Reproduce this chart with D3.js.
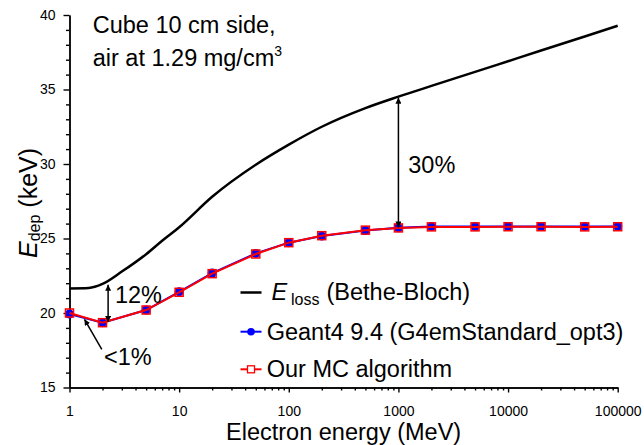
<!DOCTYPE html>
<html><head><meta charset="utf-8">
<script src="https://cdn.jsdelivr.net/npm/d3@7/dist/d3.min.js"></script>
<style>
html,body{margin:0;padding:0;background:#fff;}
svg{display:block;font-family:"Liberation Sans",Arial,sans-serif;}
</style></head>
<body>
<svg id="chart" width="644" height="445"></svg>
<script>
// ---- data ----
const energies = [1, 2, 5, 10, 20, 50, 100, 200, 500, 1000, 2000, 5000, 10000, 20000, 50000, 100000];
const geant4 = [19.93, 19.35, 20.2, 21.42, 22.68, 24.0, 24.72, 25.17, 25.54, 25.72, 25.8, 25.8, 25.81, 25.81, 25.8, 25.81];
const ourMC  = [20.0, 19.35, 20.2, 21.39, 22.64, 23.96, 24.72, 25.19, 25.56, 25.71, 25.78, 25.78, 25.79, 25.79, 25.78, 25.79];
const betheE = [1, 1.5, 2, 3, 5, 7, 10, 20, 50, 100, 200, 500, 1000, 2000, 5000, 10000, 20000, 50000, 100000];
const betheV = [21.65, 21.68, 21.95, 22.78, 23.95, 24.85, 25.75, 27.8, 29.95, 31.3, 32.5, 33.75, 34.52, 35.24, 36.18, 36.9, 37.62, 38.56, 39.28];
const xMajorTicks = [1, 10, 100, 1000, 10000, 100000];
const xTickLabels = ["1", "10", "100", "1000", "10000", "100000"];
const yMajorTicks = [15, 20, 25, 30, 35, 40];
const legendLabels = ["Geant4 9.4 (G4emStandard_opt3)", "Our MC algorithm"];

// ---- scales ----
const svg = d3.select("#chart");
const x = d3.scaleLog().domain([1, 100000]).range([69.5, 617.7]);
const y = d3.scaleLinear().domain([15, 40]).range([387.5, 15]);

// minor ticks
const xMinor = [];
for (let d = 1; d < 100000; d *= 10) for (let k = 2; k <= 9; k++) xMinor.push(d * k);
const yMinor = d3.range(15, 41, 1).filter(v => v % 5 !== 0);

// ---- axes ----
const gx = svg.append("g").attr("transform", `translate(0,${y(15)})`);
gx.append("g").call(d3.axisBottom(x).tickValues(xMinor).tickSize(3).tickFormat("").tickSizeOuter(0));
gx.append("g").call(d3.axisBottom(x).tickValues(xMajorTicks).tickSize(5).tickPadding(13.5)
  .tickFormat((d, i) => xTickLabels[i]).tickSizeOuter(0));
gx.selectAll("text").attr("font-size", 14).attr("font-family", "Liberation Sans, Arial, sans-serif").attr("fill", "#000");
gx.selectAll("path,line").attr("stroke", "#000").attr("stroke-width", 1.4);

const gy = svg.append("g").attr("transform", `translate(${x(1)},0)`);
gy.append("g").call(d3.axisLeft(y).tickValues(yMinor).tickSize(3.5).tickFormat("").tickSizeOuter(0));
gy.append("g").call(d3.axisLeft(y).tickValues(yMajorTicks).tickSize(6).tickPadding(8).tickFormat(d3.format("d")).tickSizeOuter(0));
gy.selectAll("text").attr("font-size", 14).attr("font-family", "Liberation Sans, Arial, sans-serif").attr("fill", "#000");
gy.selectAll("path,line").attr("stroke", "#000").attr("stroke-width", 1.4);

// ---- Bethe-Bloch curve ----
const bbData = betheE.map((e, i) => [e, betheV[i]]);
svg.append("path").datum(bbData)
  .attr("d", d3.line().x(d => x(d[0])).y(d => y(d[1])).curve(d3.curveMonotoneX))
  .attr("fill", "none").attr("stroke", "#000").attr("stroke-width", 2.5);

// ---- Geant4 ----
const g4 = energies.map((e, i) => [e, geant4[i]]);
const mc = energies.map((e, i) => [e, ourMC[i]]);
const ln = d3.line().x(d => x(d[0])).y(d => y(d[1]));
svg.append("path").datum(g4).attr("d", ln).attr("fill", "none").attr("stroke", "#0000ff").attr("stroke-width", 2);
svg.append("g").selectAll("circle").data(g4).join("circle")
  .attr("cx", d => x(d[0])).attr("cy", d => y(d[1])).attr("r", 4.5).attr("fill", "#0000ff");
// ---- Our MC ----
svg.append("path").datum(mc).attr("d", ln).attr("fill", "none").attr("stroke", "#ff0000").attr("stroke-width", 2);
svg.append("g").selectAll("rect").data(mc).join("rect")
  .attr("x", d => x(d[0]) - 4).attr("y", d => y(d[1]) - 4).attr("width", 8).attr("height", 8)
  .attr("fill", "none").attr("stroke", "#ff0000").attr("stroke-width", 1.5);

// ---- arrows ----
const defs = svg.append("defs");
defs.append("marker").attr("id", "ah").attr("viewBox", "0 0 10 10").attr("refX", 10).attr("refY", 5)
  .attr("markerWidth", 6).attr("markerHeight", 6).attr("markerUnits", "userSpaceOnUse").attr("orient", "auto")
  .append("path").attr("d", "M0,0 L10,5 L0,10 Z").attr("fill", "#000");
defs.append("marker").attr("id", "ahs").attr("viewBox", "0 0 10 10").attr("refX", 0).attr("refY", 5)
  .attr("markerWidth", 6).attr("markerHeight", 6).attr("markerUnits", "userSpaceOnUse").attr("orient", "auto")
  .append("path").attr("d", "M10,0 L0,5 L10,10 Z").attr("fill", "#000");
function arrow(x1, y1, x2, y2, both) {
  const p = svg.append("line").attr("x1", x(x1)).attr("y1", y(y1)).attr("x2", x(x2)).attr("y2", y(y2))
    .attr("stroke", "#000").attr("stroke-width", 1.5).attr("marker-end", "url(#ah)");
  if (both) p.attr("marker-start", "url(#ahs)");
}
arrow(1000, 25.74, 1000, 34.45, true);
arrow(2.25, 19.4, 2.25, 21.9, true);
arrow(1.97, 17.56, 1.37, 19.58, false);

// ---- annotation text ----
const F = 23.5;
function txt(px, py, s, size) {
  return svg.append("text").attr("x", px).attr("y", py).attr("font-size", size || F).attr("fill", "#000").text(s);
}
txt(x(1230), y(29.39), "30%");
txt(x(2.6), y(20.69), "12%");
txt(x(2.06), y(16.51), "<1%");

txt(92.7, 33.3, "Cube 10 cm side,");
const t2 = svg.append("text").attr("x", 92.7).attr("y", 66).attr("font-size", F).attr("fill", "#000");
t2.append("tspan").text("air at 1.29 mg/cm");
t2.append("tspan").attr("font-size", 14).attr("dy", -10).text("3");

// ---- legend ----
const lg = svg.append("g");
lg.append("line").attr("x1", 240.5).attr("x2", 261.5).attr("y1", 292.5).attr("y2", 292.5).attr("stroke", "#000").attr("stroke-width", 2.5);
const le = lg.append("text").attr("y", 300).attr("font-size", F).attr("fill", "#000");
le.append("tspan").attr("x", 271.5).attr("font-style", "italic").text("E");
le.append("tspan").attr("x", 291).attr("dy", 5).attr("font-size", 16).text("loss");
le.append("tspan").attr("x", 326.5).attr("dy", -5).text("(Bethe-Bloch)");

lg.append("line").attr("x1", 240.5).attr("x2", 261.5).attr("y1", 331.7).attr("y2", 331.7).attr("stroke", "#0000ff").attr("stroke-width", 2);
lg.append("circle").attr("cx", 251).attr("cy", 331.7).attr("r", 3.8).attr("fill", "#0000ff");
txt(266.7, 339.5, legendLabels[0]);

lg.append("line").attr("x1", 240.5).attr("x2", 261.5).attr("y1", 369.3).attr("y2", 369.3).attr("stroke", "#ff0000").attr("stroke-width", 2);
lg.append("rect").attr("x", 247.5).attr("y", 365.8).attr("width", 7).attr("height", 7).attr("fill", "#fff").attr("stroke", "#ff0000").attr("stroke-width", 1.3);
txt(266.7, 377, legendLabels[1]);

// ---- axis titles ----
svg.append("text").attr("x", (x(1) + x(100000)) / 2).attr("y", 440).attr("text-anchor", "middle")
  .attr("font-size", F).attr("fill", "#000").text("Electron energy (MeV)");
const yt = svg.append("text").attr("transform", "translate(37,258) rotate(-90)").attr("font-size", 25).attr("fill", "#000");
yt.append("tspan").attr("font-style", "italic").text("E");
yt.append("tspan").attr("font-size", 16).attr("dy", 3).text("dep");
yt.append("tspan").attr("dy", -3).text(" (keV)");
</script>
</body></html>
